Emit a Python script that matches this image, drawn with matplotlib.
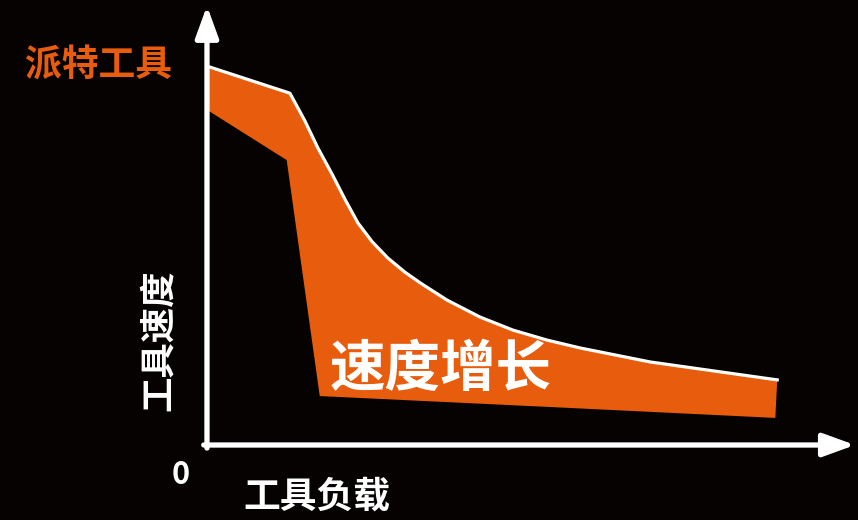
import matplotlib
matplotlib.use("Agg")
import matplotlib.pyplot as plt
import numpy as np

plt.rcParams['font.family'] = ['Noto Sans CJK SC', 'DejaVu Sans']

# chart values (load vs speed, arbitrary units)
upper_x = [0.0, 1.28, 1.51, 1.71, 1.93, 2.13, 2.33, 2.55, 2.79, 3.05,
           3.29, 3.70, 4.21, 4.72, 5.25, 5.76, 6.84, 8.80]
upper_y = [8.67, 8.05, 7.42, 6.80, 6.20, 5.62, 5.08, 4.65, 4.28, 3.96,
           3.71, 3.32, 2.93, 2.63, 2.40, 2.22, 1.90, 1.49]
lower_x = [0.0, 1.23, 1.74, 5.29, 8.77]
lower_y = [7.67, 6.52, 1.12, 0.87, 0.62]

title = "派特工具"
ylabel = "工具速度"
xlabel = "工具负载"
band_label = "速度增长"

bg = "#070202"
orange = "#E85C0E"

fig = plt.figure(figsize=(8.58, 5.2), dpi=100)
fig.patch.set_facecolor(bg)
ax = fig.add_axes([0, 0, 1, 1])
ax.set_facecolor(bg)
ax.set_xlim(-3.194, 10.046)
ax.set_ylim(-1.716, 10.183)
ax.axis("off")

# orange band
poly_x = np.concatenate([upper_x, lower_x[::-1]])
poly_y = np.concatenate([upper_y, lower_y[::-1]])
ax.fill(poly_x, poly_y, color=orange, lw=0, zorder=2)
ax.plot(upper_x, upper_y, color="white", lw=2.3, zorder=3, solid_joinstyle="round")

# axes with arrows
arrow = dict(arrowstyle="-|>,head_length=0.55,head_width=0.2", color="white",
             lw=3.8, mutation_scale=35, shrinkA=0, shrinkB=0)
ax.annotate("", xy=(10.0, 0), xytext=(-0.05, 0), arrowprops=arrow, zorder=4)
ax.annotate("", xy=(0, 10.05), xytext=(0, -0.07), arrowprops=arrow, zorder=4)

fig.text(98/858, 1 - 66/520, title, color=orange, fontsize=26.5, fontweight="bold",
         ha="center", va="center")
fig.text(158/858, 1 - 340/520, ylabel, color="white", fontsize=25.5, fontweight="bold",
         ha="center", va="center", rotation=90)
fig.text(181/858, 1 - 475/520, "0", color="white", fontsize=22, fontweight="bold",
         ha="center", va="center")
fig.text(317/858, 1 - 497/520, xlabel, color="white", fontsize=26.5, fontweight="bold",
         ha="center", va="center")
fig.text(441/858, 1 - 370/520, band_label, color="white", fontsize=40, fontweight="bold",
         ha="center", va="center")

fig.savefig("out.png", dpi=100, facecolor=bg)
